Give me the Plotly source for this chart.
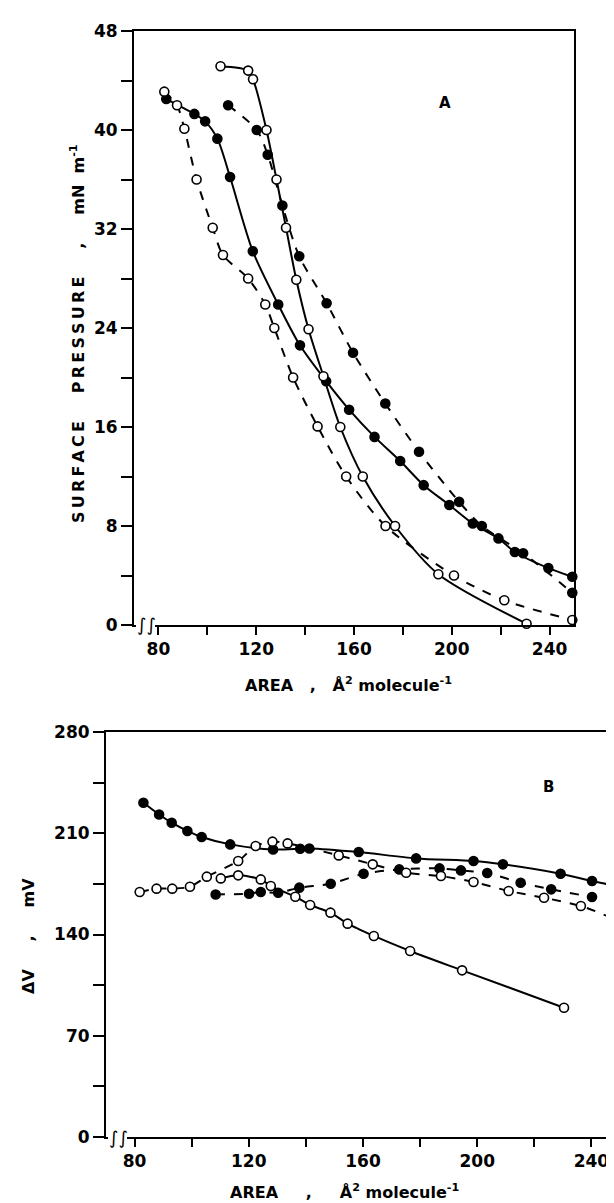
import plotly.graph_objects as go

W, H = 614, 1203

# ---------------- Panel A data ----------------
a1_x = [105.4, 116.7, 118.7, 124.2, 128.3, 132.2, 136.4, 141.4, 147.5, 154.4, 163.6, 176.8, 194.5, 230.6]
a1_y = [45.15, 44.8, 44.1, 40.0, 36.0, 32.1, 27.9, 23.9, 20.1, 16.0, 12.0, 8.0, 4.1, 0.1]

a2_x = [82.4, 87.6, 90.6, 95.6, 102.2, 106.4, 116.7, 123.7, 127.4, 135.1, 145.1, 156.8, 172.9, 200.9, 221.5, 249.3]
a2_y = [43.1, 42.0, 40.1, 36.0, 32.1, 29.9, 28.0, 25.9, 24.0, 20.0, 16.05, 12.0, 8.0, 4.0, 2.0, 0.4]

a3_x = [83.2, 94.7, 99.1, 104.1, 109.3, 118.6, 129.0, 137.9, 148.6, 158.0, 168.4, 178.9, 188.5, 199.0, 208.6, 219.1, 225.8, 239.5, 249.3]
a3_y = [42.5, 41.3, 40.7, 39.3, 36.2, 30.2, 25.9, 22.6, 19.7, 17.4, 15.2, 13.25, 11.3, 9.7, 8.2, 7.0, 5.9, 4.6, 3.9]

a4_x = [108.5, 120.2, 124.7, 130.7, 137.6, 148.8, 159.6, 172.8, 186.6, 203.0, 212.3, 229.2, 249.3]
a4_y = [42.0, 40.0, 38.0, 33.9, 29.8, 26.0, 22.0, 17.9, 14.0, 9.95, 8.0, 5.8, 2.6]

# ---------------- Panel B data ----------------
b1_x = [83.1, 88.6, 93.0, 98.5, 103.5, 113.5, 128.5, 138.0, 141.2, 158.5, 178.6, 198.7, 209.0, 229.2, 240.2, 249.9]
b1_y = [231.1, 223.0, 217.3, 211.6, 207.4, 202.3, 198.8, 199.3, 199.5, 197.0, 192.6, 190.8, 188.5, 182.0, 177.0, 173.1]

b2_x = [81.8, 87.7, 93.2, 99.4, 105.3, 116.3, 122.4, 128.3, 133.6, 151.5, 163.4, 175.1, 187.3, 198.7, 211.0, 223.4, 236.3, 247.7]
b2_y = [169.4, 171.7, 171.7, 173.0, 180.0, 190.8, 201.2, 204.2, 203.0, 194.7, 188.5, 182.7, 180.4, 176.3, 170.1, 165.4, 159.7, 151.0]

b3_x = [108.4, 120.1, 124.2, 130.3, 137.7, 148.7, 160.2, 172.7, 186.8, 194.3, 203.5, 215.2, 225.9, 240.2]
b3_y = [167.7, 168.2, 169.4, 168.9, 172.4, 175.1, 182.0, 185.0, 185.7, 184.3, 182.5, 175.8, 171.2, 165.9]

b4_x = [110.2, 116.3, 124.2, 127.7, 136.3, 141.5, 148.6, 154.6, 163.8, 176.5, 194.7, 230.4]
b4_y = [178.8, 180.9, 178.1, 173.5, 166.1, 160.4, 155.1, 147.5, 139.0, 128.6, 115.2, 89.4]

# ---------------- Axis ticks ----------------
x_ticks = [80, 100, 120, 140, 160, 180, 200, 220, 240]
x_labels = ["80", "", "120", "", "160", "", "200", "", "240"]
ya_ticks = [0, 4, 8, 12, 16, 20, 24, 28, 32, 36, 40, 44, 48]
ya_labels = ["0", "", "8", "", "16", "", "24", "", "32", "", "40", "", "48"]
yb_ticks = [0, 35, 70, 105, 140, 175, 210, 245, 280]
yb_labels = ["0", "", "70", "", "140", "", "210", "", "280"]

FONT = "DejaVu Sans"
BLACK = "black"

def px_x(p):
    return p / W

def px_y(p):
    return 1 - p / H

fig = go.Figure()

def add_series(x, y, filled, dash, xa, ya):
    fig.add_trace(go.Scatter(
        x=x, y=y, xaxis=xa, yaxis=ya, mode="lines+markers",
        line=dict(color=BLACK, width=2, dash=dash, shape="spline", smoothing=0.8),
        marker=dict(symbol="circle", size=9,
                    color=BLACK if filled else "white",
                    line=dict(color=BLACK, width=1.6)),
        showlegend=False, cliponaxis=False, hoverinfo="skip"))

add_series(a3_x, a3_y, True, "solid", "x", "y")
add_series(a4_x, a4_y, True, "dash", "x", "y")
add_series(a2_x, a2_y, False, "dash", "x", "y")
add_series(a1_x, a1_y, False, "solid", "x", "y")

add_series(b1_x, b1_y, True, "solid", "x2", "y2")
add_series(b3_x, b3_y, True, "dash", "x2", "y2")
add_series(b2_x, b2_y, False, "dash", "x2", "y2")
add_series(b4_x, b4_y, False, "solid", "x2", "y2")

tickfont = dict(family=FONT, size=17, color=BLACK, weight="bold")
common = dict(showgrid=False, zeroline=False, showline=True, linecolor=BLACK, linewidth=2,
              mirror=True, ticks="outside", tickcolor=BLACK, tickwidth=1.5, tickfont=tickfont,
              automargin=False)

fig.update_layout(
    width=W, height=H, margin=dict(l=0, r=0, t=0, b=0, autoexpand=False),
    paper_bgcolor="white", plot_bgcolor="white",
    xaxis=dict(domain=[px_x(126), px_x(566)], range=[70, 250], tickvals=x_ticks, ticktext=x_labels,
               ticklen=8, anchor="y", **common),
    yaxis=dict(domain=[px_y(617), px_y(23)], range=[0, 48], tickvals=ya_ticks, ticktext=ya_labels,
               ticklen=11, anchor="x", **common),
    xaxis2=dict(domain=[px_x(98), px_x(612)], range=[70, 250], tickvals=x_ticks, ticktext=x_labels,
                ticklen=8, anchor="y2", **common),
    yaxis2=dict(domain=[px_y(1129), px_y(724)], range=[0, 280], tickvals=yb_ticks, ticktext=yb_labels,
                ticklen=11, anchor="x2", **common),
)

titlefont = dict(family=FONT, size=16, color=BLACK, weight="bold")
nb = "\u00a0"
ts = "\u2009"
area_title_a = "AREA" + nb * 3 + "," + nb * 3 + "Å<sup>2</sup>" + nb + "molecule<sup>-1</sup>"
area_title_b = "AREA" + nb * 5 + "," + nb * 5 + "Å<sup>2</sup>" + nb + "molecule<sup>-1</sup>"

def spaced(word):
    return ts.join(list(word))

ann = []
ann.append(dict(text=area_title_a, x=px_x(340), y=px_y(676), xref="paper", yref="paper",
                showarrow=False, font=titlefont, xanchor="center", yanchor="middle"))
ann.append(dict(text=area_title_b, x=px_x(336), y=px_y(1183), xref="paper", yref="paper",
                showarrow=False, font=titlefont, xanchor="center", yanchor="middle"))
sp_title = spaced("SURFACE") + nb * 5 + spaced("PRESSURE") + nb * 5 + "," + nb * 5 + "mN" + nb * 2 + "m<sup>-1</sup>"
ann.append(dict(text=sp_title, x=px_x(70), y=px_y(326), xref="paper", yref="paper", textangle=-90,
                showarrow=False, font=titlefont, xanchor="center", yanchor="middle"))
dv_title = "ΔV" + nb * 5 + "," + nb * 5 + "mV"
ann.append(dict(text=dv_title, x=px_x(20), y=px_y(928), xref="paper", yref="paper", textangle=-90,
                showarrow=False, font=titlefont, xanchor="center", yanchor="middle"))
ann.append(dict(text="A", x=197.2, y=42.2, xref="x", yref="y", showarrow=False,
                font=dict(family=FONT, size=15, color=BLACK, weight="bold")))
ann.append(dict(text="B", x=224.9, y=242.2, xref="x2", yref="y2", showarrow=False,
                font=dict(family=FONT, size=15, color=BLACK, weight="bold")))
# axis break marks
ann.append(dict(text="∫∫", x=px_x(138), y=px_y(616), xref="paper", yref="paper", showarrow=False,
                font=dict(family=FONT, size=18, color=BLACK), xanchor="center", yanchor="middle"))
ann.append(dict(text="∫∫", x=px_x(110), y=px_y(1129), xref="paper", yref="paper", showarrow=False,
                font=dict(family=FONT, size=18, color=BLACK), xanchor="center", yanchor="middle"))
fig.update_layout(annotations=ann)

shapes = [
    dict(type="rect", xref="paper", yref="paper", x0=px_x(128), x1=px_x(147), y0=px_y(620), y1=px_y(613),
         fillcolor="white", line=dict(width=0), layer="above"),
    dict(type="rect", xref="paper", yref="paper", x0=px_x(100), x1=px_x(119), y0=px_y(1132), y1=px_y(1126),
         fillcolor="white", line=dict(width=0), layer="above"),
]
fig.update_layout(shapes=shapes)

fig.write_html("out.html")
